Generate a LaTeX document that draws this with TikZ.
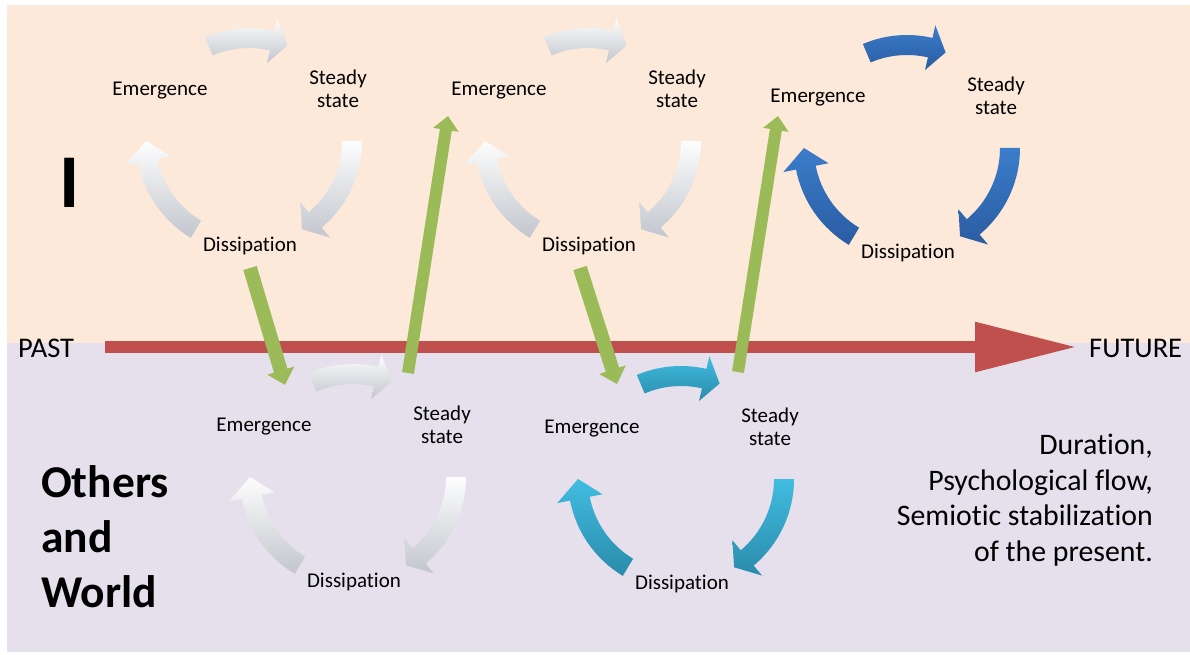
\documentclass[tikz,border=0pt]{standalone}
\usepackage{fontspec}
\setmainfont{Carlito}[Ligatures=NoCommon]
\usetikzlibrary{arrows.meta}
\definecolor{peach}{HTML}{FDE9D9}
\definecolor{lav}{HTML}{E5E0EC}
\definecolor{redbar}{HTML}{C0504D}
\definecolor{grn}{HTML}{9BBB59}
\definecolor{grayT}{HTML}{FDFDFD}
\definecolor{grayB}{HTML}{C2C6CD}
\definecolor{blueT}{HTML}{3B7DCA}
\definecolor{blueB}{HTML}{2A5CA2}
\definecolor{tealT}{HTML}{40BDE0}
\definecolor{tealB}{HTML}{2A8BAB}

% #1 tail angle, #2 tip angle, #3 head base angle, #4 radius, #5 half shaft, #6 half head, #7 style
\newcommand\cycarrow[7]{%
  \pgfmathsetmacro\cRo{#4+#5}%
  \pgfmathsetmacro\cRi{#4-#5}%
  \pgfmathsetmacro\cHo{#4+#6}%
  \pgfmathsetmacro\cHi{#4-#6}%
  \path[#7] (#1:\cRo pt) arc[start angle=#1, end angle=#3, radius=\cRo pt]
    -- (#3:\cHo pt) -- (#2:#4pt) -- (#3:\cHi pt) -- (#3:\cRi pt)
    arc[start angle=#3, end angle=#1, radius=\cRi pt] -- cycle;
}
% #1 name, #2 dx, #3 dy, #4 arrow style
\newcommand\cyclegroup[4]{%
  \begin{scope}[shift={(249+#2,-141-#3)}]
    \cycarrow{113}{68}{77}{103}{10}{23}{#4}
    \cycarrow{0}{-59}{-50}{103}{10}{23}{#4}
    \cycarrow{239}{180}{191}{103}{10}{23}{#4}
  \end{scope}
  \node[lbl, anchor=base] (#1e) at (160+#2,-95.5-#3) {Emergence};
  \node[lbl, anchor=center] (#1s) at (338+#2,-89-#3) {Steady\\state};
  \node[lbl, anchor=base] (#1d) at (250+#2,-251-#3) {Dissipation};
}

\begin{document}
\begin{tikzpicture}[x=1pt,y=1pt,
  lbl/.style={font=\fontsize{21}{23}\selectfont, inner sep=0pt, align=center},
  grayarr/.style={top color=grayT, bottom color=grayB},
  bluearr/.style={top color=blueT, bottom color=blueB},
  tealarr/.style={top color=tealT, bottom color=tealB},
  greendown/.style={draw=grn, line width=14pt, -{Triangle[width=27pt,length=15pt]}},
  greenup/.style={draw=grn, line width=12pt, -{Triangle[width=25pt,length=14pt]}},
  timeline/.style={draw=redbar, line width=12pt, -{Triangle[width=47pt,length=102pt]}}
]
\useasboundingbox (0,0) rectangle (1190,-655);
\fill[white] (0,0) rectangle (1190,-655);
\fill[peach] (7,-5) rectangle (1190,-343);
\fill[lav] (7,-343) rectangle (1190,-652);

% time line
\coordinate (pastend) at (105,-347);
\coordinate (futend) at (1077,-347);
\draw[timeline] (pastend) -- (futend);
\node[font=\fontsize{28.5}{30}\selectfont, anchor=base west, inner sep=0pt] (past) at (18,-357) {PAST};
\node[font=\fontsize{28.5}{30}\selectfont, anchor=base west, inner sep=0pt] (future) at (1089,-357) {FUTURE};

% cycles
\cyclegroup{a}{0}{0}{grayarr}
\cyclegroup{b}{339}{0}{grayarr}
\cyclegroup{c}{658}{7}{bluearr}
\cyclegroup{d}{104}{336}{grayarr}
\cyclegroup{e}{432}{338}{tealarr}

% green links
\coordinate (g1a) at (250,-268);
\coordinate (g1b) at (285,-385);
\coordinate (g2a) at (408,-373);
\coordinate (g2b) at (448,-116);
\coordinate (g3a) at (580,-268);
\coordinate (g3b) at (617,-384);
\coordinate (g4a) at (738,-372);
\coordinate (g4b) at (778,-116);
\draw[greendown] (g1a) -- (g1b);
\draw[greenup] (g2a) -- (g2b);
\draw[greendown] (g3a) -- (g3b);
\draw[greenup] (g4a) -- (g4b);

% side labels
\node[font=\fontsize{76}{80}\selectfont\bfseries, anchor=base, inner sep=0pt] (ilabel) at (69.5,-207) {I};
\node[font=\fontsize{45.5}{55}\selectfont\bfseries, align=left, anchor=north west, inner sep=0pt] (others) at (41,-465) {Others\\and\\World};
\node[font=\fontsize{29.8}{35.5}\selectfont, align=right, anchor=north east, inner sep=0pt] (dur) at (1153,-434) {Duration,\\Psychological flow,\\Semiotic stabilization\\of the present.};
\end{tikzpicture}
\end{document}
